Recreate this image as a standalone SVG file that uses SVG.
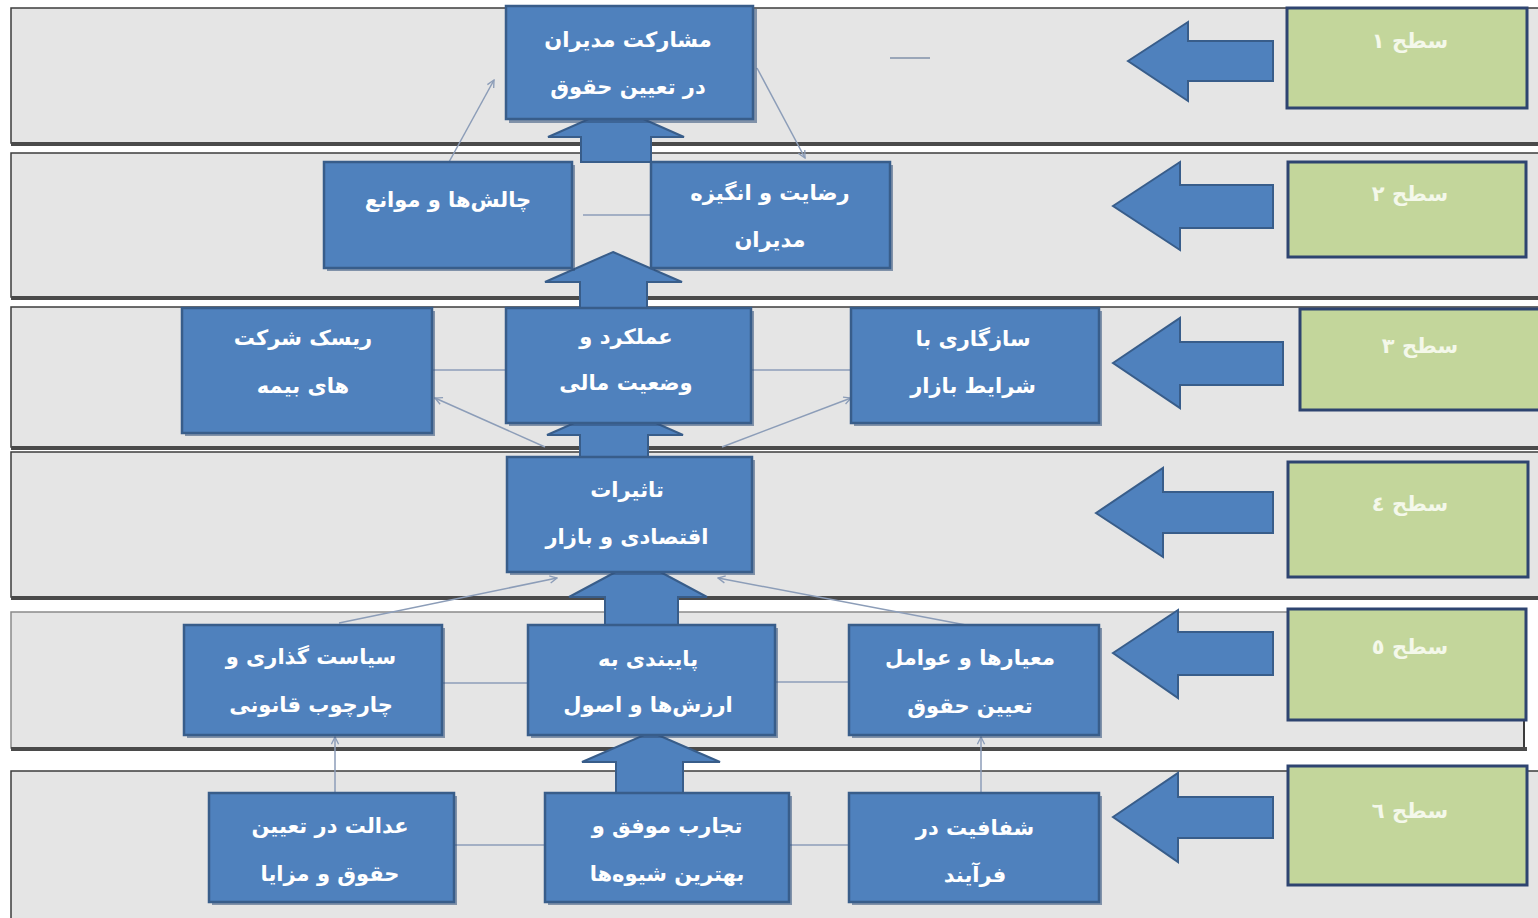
<svg xmlns="http://www.w3.org/2000/svg" width="1538" height="918" viewBox="0 0 1538 918">
<defs>
<style>
.band{fill:#e5e5e5;stroke:#3c3c3c;stroke-width:1.5}
.bshadow{fill:#4a4a4a}
.node{fill:#4f81bd;stroke:#385d8a;stroke-width:2.5}
.shadow{fill:#2f4f78;opacity:0.55}
.lvl{fill:#c3d69b;stroke:#2e4470;stroke-width:3}
.blk{fill:#4f81bd;stroke:#385d8a;stroke-width:2}
.t{font-family:"DejaVu Sans",sans-serif;font-size:21px;font-weight:bold;fill:#ffffff;text-anchor:middle}
.lt{font-family:"DejaVu Sans",sans-serif;font-size:21px;font-weight:bold;fill:#f4f8ea;text-anchor:middle}
.con{stroke:#8c9db8;stroke-width:1.5;fill:none}
</style>
<marker id="ah" viewBox="0 0 10 10" refX="9" refY="5" markerWidth="9" markerHeight="9" orient="auto" markerUnits="userSpaceOnUse">
<path d="M1,1 L9,5 L1,9" fill="none" stroke="#8c9db8" stroke-width="1.5"/>
</marker>
</defs>
<rect x="0" y="0" width="1538" height="918" fill="#ffffff"/>

<g id="bands">
<rect class="band" x="11" y="8" width="1540" height="135"/><rect class="bshadow" x="11" y="142" width="1540" height="4"/>
<rect class="band" x="11" y="153" width="1540" height="144"/><rect class="bshadow" x="11" y="296" width="1540" height="4"/>
<rect class="band" x="11" y="307" width="1540" height="140"/><rect class="bshadow" x="11" y="446" width="1540" height="4"/>
<rect class="band" x="11" y="452" width="1540" height="145"/><rect class="bshadow" x="11" y="596" width="1540" height="4"/>
<rect class="band" x="11" y="612" width="1513" height="136" style="stroke:#8a8a8a"/><line x1="1524" y1="612" x2="1524" y2="748" stroke="#3c3c3c" stroke-width="2"/><rect class="bshadow" x="11" y="747" width="1516" height="4"/>
<rect class="band" x="11" y="771" width="1540" height="160"/>
</g>

<g id="connectors">
<line class="con" x1="449" y1="162" x2="494" y2="80" marker-end="url(#ah)"/>
<line class="con" x1="757" y1="68" x2="805" y2="158" marker-end="url(#ah)"/>
<line class="con" x1="583" y1="215" x2="650" y2="215"/>
<line x1="890" y1="58" x2="930" y2="58" stroke="#9aa6b8" stroke-width="2"/>
<line class="con" x1="432" y1="370" x2="506" y2="370"/>
<line class="con" x1="751" y1="370" x2="851" y2="370"/>
<line class="con" x1="545" y1="447" x2="435" y2="398" marker-end="url(#ah)"/>
<line class="con" x1="722" y1="447" x2="851" y2="398" marker-end="url(#ah)"/>
<line class="con" x1="339" y1="623" x2="557" y2="578" marker-end="url(#ah)"/>
<line class="con" x1="966" y1="625" x2="718" y2="578" marker-end="url(#ah)"/>
<line class="con" x1="442" y1="683" x2="528" y2="683"/>
<line class="con" x1="775" y1="682" x2="849" y2="682"/>
<line class="con" x1="335" y1="793" x2="335" y2="737" marker-end="url(#ah)"/>
<line class="con" x1="981" y1="793" x2="981" y2="737" marker-end="url(#ah)"/>
<line class="con" x1="454" y1="845" x2="545" y2="845"/>
<line class="con" x1="789" y1="845" x2="849" y2="845"/>
</g>

<g id="up-arrows">
<polygon class="blk" points="616,107 684,137 651,137 651,162 581,162 581,137 548,137"/>
<polygon class="blk" points="613,252 682,282 647,282 647,308 580,308 580,282 545,282"/>
<polygon class="blk" points="615,405 683,435 648,435 648,457 580,457 580,435 547,435"/>
<polygon class="blk" points="638,560 707,597 678,597 678,627 605,627 605,597 569,597"/>
<polygon class="blk" points="651,732 720,762 683,762 683,793 616,793 616,762 582,762"/>
</g>

<g id="level-arrows">
<polygon class="blk" points="1128,61 1188,22 1188,41 1273,41 1273,81 1188,81 1188,101"/>
<polygon class="blk" points="1113,206 1180,162 1180,185 1273,185 1273,228 1180,228 1180,250"/>
<polygon class="blk" points="1113,363 1180,318 1180,342 1283,342 1283,385 1180,385 1180,408"/>
<polygon class="blk" points="1096,513 1163,468 1163,492 1273,492 1273,533 1163,533 1163,557"/>
<polygon class="blk" points="1113,653 1178,610 1178,632 1273,632 1273,675 1178,675 1178,698"/>
<polygon class="blk" points="1113,817 1178,773 1178,797 1273,797 1273,838 1178,838 1178,862"/>
</g>

<g id="level1"><rect class="lvl" x="1287" y="8" width="240" height="100"/><text class="lt" x="1410" y="48" direction="rtl">سطح ١</text></g>
<g id="level2"><rect class="lvl" x="1288" y="162" width="238" height="95"/><text class="lt" x="1410" y="201" direction="rtl">سطح ٢</text></g>
<g id="level3"><rect class="lvl" x="1300" y="309" width="240" height="101"/><text class="lt" x="1420" y="353" direction="rtl">سطح ٣</text></g>
<g id="level4"><rect class="lvl" x="1288" y="462" width="240" height="115"/><text class="lt" x="1410" y="511" direction="rtl">سطح ٤</text></g>
<g id="level5"><rect class="lvl" x="1288" y="609" width="238" height="111"/><text class="lt" x="1410" y="654" direction="rtl">سطح ٥</text></g>
<g id="level6"><rect class="lvl" x="1288" y="766" width="239" height="119"/><text class="lt" x="1410" y="818" direction="rtl">سطح ٦</text></g>

<g id="n-participation"><rect class="shadow" x="509" y="9" width="248" height="114"/><rect class="node" x="506" y="6" width="247" height="113"/><text class="t" x="628" y="47" direction="rtl">مشارکت مدیران</text><text class="t" x="628" y="94" direction="rtl">در تعیین حقوق</text></g>
<g id="n-challenges"><rect class="shadow" x="327" y="165" width="248" height="106"/><rect class="node" x="324" y="162" width="248" height="106"/><text class="t" x="448" y="207" direction="rtl">چالش‌ها و موانع</text></g>
<g id="n-satisfaction"><rect class="shadow" x="654" y="165" width="239" height="106"/><rect class="node" x="651" y="162" width="239" height="106"/><text class="t" x="770" y="200" direction="rtl">رضایت و انگیزه</text><text class="t" x="770" y="247" direction="rtl">مدیران</text></g>
<g id="n-risk"><rect class="shadow" x="185" y="311" width="250" height="125"/><rect class="node" x="182" y="308" width="250" height="125"/><text class="t" x="303" y="345" direction="rtl">ریسک شرکت</text><text class="t" x="303" y="393" direction="rtl">های بیمه</text></g>
<g id="n-performance"><rect class="shadow" x="509" y="311" width="245" height="115"/><rect class="node" x="506" y="308" width="245" height="115"/><text class="t" x="626" y="344" direction="rtl">عملکرد و</text><text class="t" x="626" y="390" direction="rtl">وضعیت مالی</text></g>
<g id="n-adaptation"><rect class="shadow" x="854" y="311" width="248" height="115"/><rect class="node" x="851" y="308" width="248" height="115"/><text class="t" x="973" y="346" direction="rtl">سازگاری با</text><text class="t" x="973" y="393" direction="rtl">شرایط بازار</text></g>
<g id="n-effects"><rect class="shadow" x="510" y="460" width="245" height="115"/><rect class="node" x="507" y="457" width="245" height="115"/><text class="t" x="627" y="497" direction="rtl">تاثیرات</text><text class="t" x="627" y="544" direction="rtl">اقتصادی و بازار</text></g>
<g id="n-policy"><rect class="shadow" x="187" y="628" width="258" height="110"/><rect class="node" x="184" y="625" width="258" height="110"/><text class="t" x="311" y="664" direction="rtl">سیاست گذاری و</text><text class="t" x="311" y="712" direction="rtl">چارچوب قانونی</text></g>
<g id="n-commitment"><rect class="shadow" x="531" y="628" width="247" height="110"/><rect class="node" x="528" y="625" width="247" height="110"/><text class="t" x="648" y="666" direction="rtl">پایبندی به</text><text class="t" x="648" y="712" direction="rtl">ارزش‌ها و اصول</text></g>
<g id="n-criteria"><rect class="shadow" x="852" y="628" width="250" height="110"/><rect class="node" x="849" y="625" width="250" height="110"/><text class="t" x="970" y="665" direction="rtl">معیارها و عوامل</text><text class="t" x="970" y="713" direction="rtl">تعیین حقوق</text></g>
<g id="n-justice"><rect class="shadow" x="212" y="796" width="245" height="109"/><rect class="node" x="209" y="793" width="245" height="109"/><text class="t" x="330" y="833" direction="rtl">عدالت در تعیین</text><text class="t" x="330" y="881" direction="rtl">حقوق و مزایا</text></g>
<g id="n-experience"><rect class="shadow" x="548" y="796" width="244" height="109"/><rect class="node" x="545" y="793" width="244" height="109"/><text class="t" x="667" y="833" direction="rtl">تجارب موفق و</text><text class="t" x="667" y="881" direction="rtl">بهترین شیوه‌ها</text></g>
<g id="n-transparency"><rect class="shadow" x="852" y="796" width="250" height="109"/><rect class="node" x="849" y="793" width="250" height="109"/><text class="t" x="975" y="835" direction="rtl">شفافیت در</text><text class="t" x="975" y="882" direction="rtl">فرآیند</text></g>
</svg>
